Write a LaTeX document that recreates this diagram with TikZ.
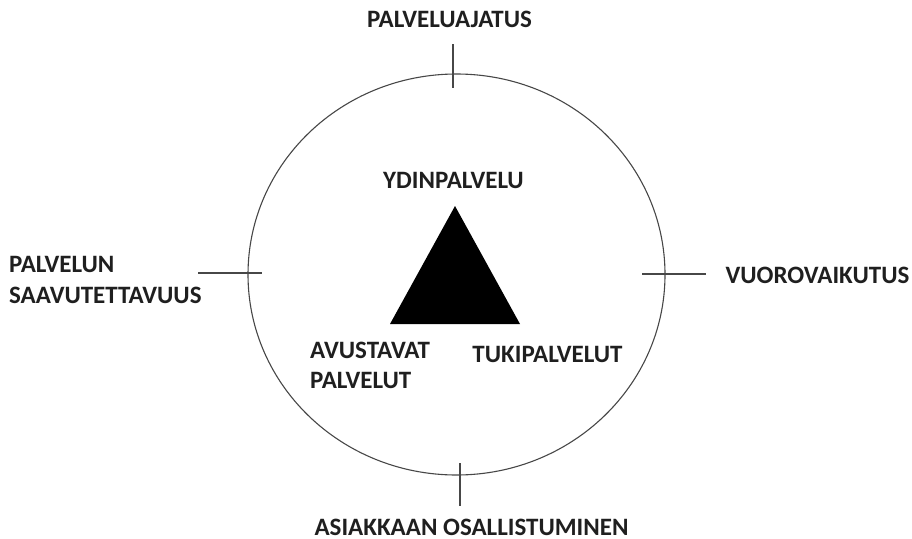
\documentclass[tikz,border=0pt]{standalone}
\usepackage{fontspec}
\setmainfont{Carlito}
\begin{document}
\begin{tikzpicture}[x=1pt,y=-1pt,
  lbl/.style={inner sep=0pt,text depth=0pt,font=\fontsize{25}{30}\selectfont\bfseries,text=black!88},
  ln/.style={line width=1.1pt,draw=black!72}]
\useasboundingbox (0,0) rectangle (912,538);
% circle
\draw[ln] (456.5,274.5) ellipse [x radius=208.5, y radius=200.5];
% ticks
\coordinate (t1) at (453,44); \coordinate (t2) at (453,88);
\coordinate (l1) at (198,273); \coordinate (l2) at (262,273);
\coordinate (r1) at (642,274); \coordinate (r2) at (706,274);
\coordinate (b1) at (460,463); \coordinate (b2) at (460,506);
\draw[ln] (t1) -- (t2);
\draw[ln] (l1) -- (l2);
\draw[ln] (r1) -- (r2);
\draw[ln] (b1) -- (b2);
% triangle
\fill[black] (455,206) -- (520,324) -- (390,324) -- cycle;
% labels
\node[lbl,anchor=base] (top) at (449.5,27.5) {PALVELUAJATUS};
\node[lbl,anchor=base] (core) at (453.5,188.5) {YDINPALVELU};
\node[lbl,anchor=base west] (left1) at (9,272.5) {PALVELUN};
\node[lbl,anchor=base west] (left2) at (9,303) {SAAVUTETTAVUUS};
\node[lbl,anchor=base] (right) at (817.5,283.5) {VUOROVAIKUTUS};
\node[lbl,anchor=base west] (av1) at (310,358.5) {AVUSTAVAT};
\node[lbl,anchor=base west] (av2) at (310,388) {PALVELUT};
\node[lbl,anchor=base] (tuki) at (547.5,362.5) {TUKIPALVELUT};
\node[lbl,anchor=base] (bottom) at (471.5,535) {ASIAKKAAN OSALLISTUMINEN};
\end{tikzpicture}
\end{document}
